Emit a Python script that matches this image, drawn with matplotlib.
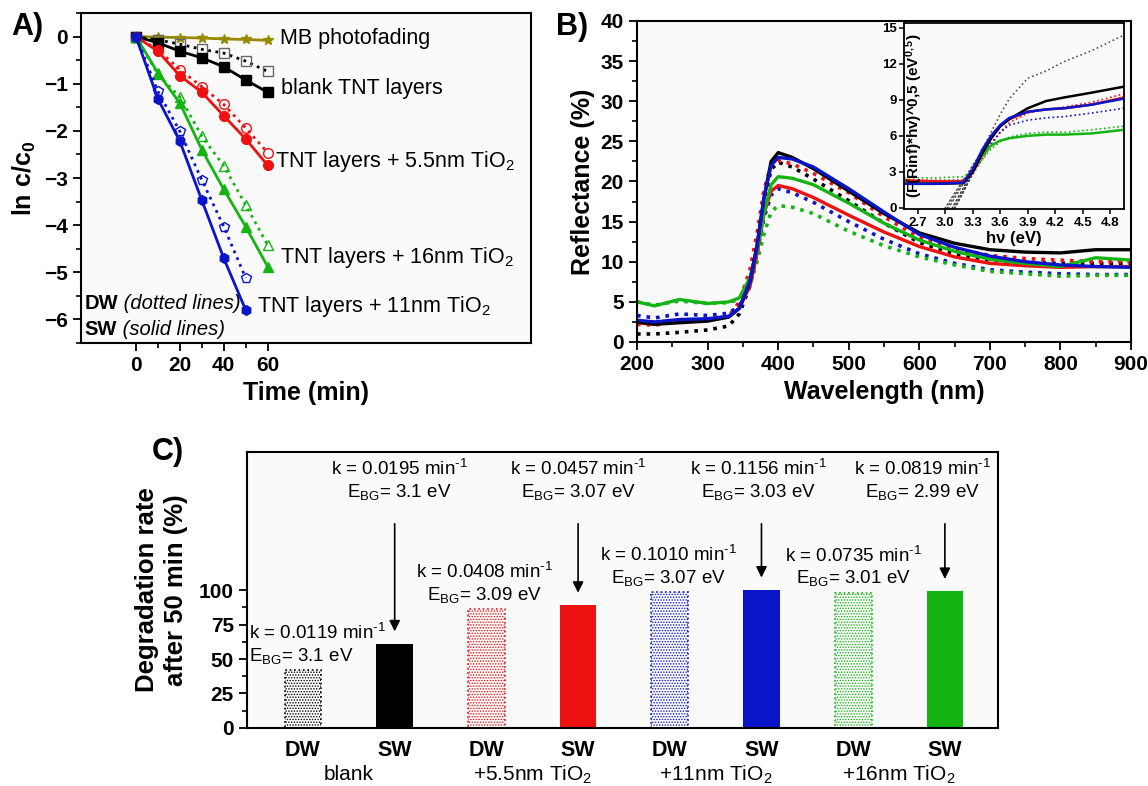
import numpy as np
import matplotlib
matplotlib.use("Agg")
import matplotlib.pyplot as plt
from matplotlib.ticker import MultipleLocator, FixedLocator

plt.rcParams.update({
    "font.family": ["Liberation Sans", "DejaVu Sans"],
    "mathtext.fontset": "custom",
    "mathtext.rm": "Liberation Sans",
    "mathtext.it": "Liberation Sans:italic",
    "mathtext.bf": "Liberation Sans:bold",
    "mathtext.default": "regular",
    "hatch.linewidth": 0.7,
})

# ---- panel A: kinetics ln(c/c0) vs time ----
time = [0, 10, 20, 30, 40, 50, 60]
time_11 = [0, 10, 20, 30, 40, 50]
lnc_mb = [0, -0.01, -0.02, -0.03, -0.05, -0.06, -0.08]
lnc_blank_sw = [0, -0.13, -0.31, -0.45, -0.64, -0.92, -1.18]
lnc_blank_dw = [0, -0.07, -0.16, -0.27, -0.35, -0.52, -0.74]
lnc_55_sw = [0, -0.31, -0.83, -1.18, -1.68, -2.17, -2.73]
lnc_55_dw = [0, -0.28, -0.70, -1.06, -1.44, -1.94, -2.46]
lnc_16_sw = [0, -0.77, -1.41, -2.40, -3.24, -4.03, -4.88]
lnc_16_dw = [0, -0.80, -1.28, -2.11, -2.74, -3.57, -4.42]
lnc_11_sw = [0, -1.32, -2.22, -3.47, -4.70, -5.80]
lnc_11_dw = [0, -1.16, -2.01, -3.04, -4.03, -5.12]

# ---- panel B: diffuse reflectance ----
wl = [200, 225, 260, 300, 330, 345, 360, 370, 380, 390, 400, 420, 450, 500,
      550, 600, 650, 700, 750, 800, 850, 900]
refl_black_sw = [2.5, 2.2, 2.4, 2.6, 3.1, 4.2, 7.5, 12.0, 18.0, 22.5, 23.6, 23.0, 21.6, 18.8,
                 16.0, 13.6, 12.3, 11.5, 11.2, 11.1, 11.5, 11.5]
refl_black_dw = [1.0, 1.0, 1.2, 1.5, 2.0, 3.5, 7.0, 11.5, 17.5, 21.5, 22.4, 21.8, 20.3, 17.6,
                 14.8, 12.4, 11.0, 10.2, 9.9, 9.8, 9.8, 9.8]
refl_red_sw = [2.4, 2.2, 2.7, 2.8, 3.2, 4.2, 7.0, 11.0, 16.0, 18.8, 19.5, 19.1, 18.0, 15.8,
               13.7, 11.9, 10.6, 9.8, 9.5, 9.3, 9.4, 9.4]
refl_red_dw = [2.2, 2.1, 2.6, 2.7, 3.2, 5.0, 9.0, 13.5, 19.0, 22.0, 22.6, 22.2, 21.0, 18.6,
               15.6, 13.0, 11.6, 10.8, 10.4, 10.2, 10.0, 10.0]
refl_blue_sw = [2.7, 2.5, 2.8, 2.9, 3.2, 4.2, 7.5, 12.0, 18.0, 22.0, 23.0, 22.8, 21.8, 19.1,
                16.2, 13.4, 11.8, 10.7, 10.0, 9.6, 9.4, 9.3]
refl_blue_dw = [3.3, 3.0, 3.5, 3.3, 3.6, 4.5, 7.0, 11.0, 15.5, 18.3, 19.1, 18.6, 17.4, 15.0,
                12.8, 11.0, 9.8, 9.0, 8.7, 8.5, 8.4, 8.4]
refl_green_sw = [5.0, 4.5, 5.3, 4.8, 5.0, 5.5, 8.0, 11.5, 16.0, 19.6, 20.6, 20.4, 19.6, 17.3,
                 14.8, 12.7, 11.3, 10.3, 9.8, 9.4, 10.5, 10.2]
refl_green_dw = [5.0, 4.6, 5.1, 4.8, 4.9, 5.3, 7.0, 10.0, 13.5, 16.2, 17.0, 16.8, 16.0, 13.8,
                 12.0, 10.6, 9.6, 8.8, 8.5, 8.2, 8.3, 8.3]

# inset: Kubelka-Munk (F(R)*hv)^0.5
hv = [2.55, 2.9, 3.2, 3.3, 3.4, 3.5, 3.6, 3.7, 3.9, 4.1, 4.3, 4.6, 4.95]
km_black_sw = [2.0, 2.0, 2.05, 3.0, 4.5, 5.8, 6.8, 7.4, 8.3, 8.9, 9.2, 9.6, 10.1]
km_black_dw = [2.2, 2.2, 2.3, 3.2, 4.8, 6.3, 7.8, 9.1, 10.8, 11.4, 12.2, 13.1, 14.4]
km_red_sw = [2.3, 2.2, 2.2, 3.0, 4.5, 5.8, 6.8, 7.4, 8.0, 8.2, 8.3, 8.6, 9.2]
km_red_dw = [2.3, 2.3, 2.3, 2.8, 4.0, 5.2, 6.3, 7.1, 7.9, 8.2, 8.4, 8.8, 9.5]
km_blue_sw = [2.0, 2.0, 2.1, 3.2, 4.8, 6.0, 6.9, 7.5, 8.0, 8.2, 8.3, 8.6, 9.1]
km_blue_dw = [2.1, 2.1, 2.2, 3.0, 4.3, 5.4, 6.3, 6.9, 7.3, 7.5, 7.6, 7.9, 8.3]
km_green_sw = [2.2, 2.2, 2.2, 3.1, 4.3, 5.2, 5.6, 5.8, 6.0, 6.1, 6.1, 6.2, 6.5]
km_green_dw = [2.5, 2.5, 2.6, 3.0, 4.0, 4.9, 5.5, 5.9, 6.2, 6.3, 6.3, 6.5, 6.8]

# ---- panel C: degradation after 50 min ----
bar_labels = ["DW", "SW", "DW", "SW", "DW", "SW", "DW", "SW"]
groups = ["blank", "+5.5nm TiO$_2$", "+11nm TiO$_2$", "+16nm TiO$_2$"]
degradation = [42, 61, 86, 89, 98.5, 100, 98, 99]
k_rate = ["0.0119", "0.0195", "0.0408", "0.0457", "0.1010", "0.1156", "0.0735", "0.0819"]
e_bg = ["3.1", "3.1", "3.09", "3.07", "3.07", "3.03", "3.01", "2.99"]
e_bg_num = [3.1, 3.1, 3.09, 3.07, 3.07, 3.03, 3.01, 2.99]

BLACK, RED, BLUE, GREEN, OLIVE = "#000000", "#ee1111", "#0a14c8", "#14b414", "#968a00"
BG = "#fafafa"


def bold_ticks(ax):
    for t in ax.get_xticklabels() + ax.get_yticklabels():
        t.set_fontweight("bold")


def frame(ax, lw=1.5):
    for s in ax.spines.values():
        s.set_linewidth(lw)


fig = plt.figure(figsize=(11.48, 7.86), dpi=100)
fig.patch.set_facecolor("white")

# ================= A =================
axA = fig.add_axes([0.0706, 0.5636, 0.392, 0.4198], facecolor=BG)
ms = 7
axA.plot(time, lnc_mb, color=OLIVE, lw=2, marker="*", ms=7)
axA.plot(time, lnc_blank_dw, color=BLACK, lw=2, ls=":", marker="s", ms=ms,
         mfc="none", mec="#666666")
axA.plot(time, lnc_blank_sw, color=BLACK, lw=2, marker="s", ms=ms)
axA.plot(time, lnc_55_dw, color=RED, lw=2, ls=":", marker="o", ms=ms, mfc="none")
axA.plot(time, lnc_55_sw, color=RED, lw=2, marker="o", ms=ms)
axA.plot(time, lnc_16_dw, color=GREEN, lw=2, ls=":", marker="^", ms=ms, mfc="none")
axA.plot(time, lnc_16_sw, color=GREEN, lw=2, marker="^", ms=ms)
axA.plot(time_11, lnc_11_dw, color=BLUE, lw=2, ls=":", marker="p", ms=ms, mfc="none")
axA.plot(time_11, lnc_11_sw, color=BLUE, lw=2, marker="h", ms=ms)

axA.set_xlim(-25, 180)
axA.set_ylim(-6.5, 0.5)
axA.xaxis.set_major_locator(FixedLocator([0, 20, 40, 60]))
axA.xaxis.set_minor_locator(FixedLocator([10, 30, 50]))
axA.yaxis.set_major_locator(MultipleLocator(1))
axA.yaxis.set_minor_locator(MultipleLocator(0.5))
axA.tick_params(which="major", length=6, width=1.3, labelsize=15)
axA.tick_params(which="minor", length=3.5, width=1.2)
bold_ticks(axA)
frame(axA)
axA.set_xlabel("Time (min)", fontsize=18, fontweight="bold", labelpad=4)
axA.set_ylabel("ln c/c$_0$", fontsize=18, fontweight="bold", labelpad=4)

fsA = 15.5
axA.text(65.5, -0.03, "MB photofading", fontsize=fsA, va="center")
axA.text(66, -1.11, "blank TNT layers", fontsize=fsA, va="center")
axA.text(63.5, -2.65, "TNT layers + 5.5nm TiO$_2$", fontsize=fsA, va="center")
axA.text(65.5, -4.69, "TNT layers + 16nm TiO$_2$", fontsize=fsA, va="center")
axA.text(55, -5.72, "TNT layers + 11nm TiO$_2$", fontsize=fsA, va="center")
for yy, head, tail in [(-5.67, "DW", " (dotted lines)"), (-6.22, "SW", " (solid lines)")]:
    t = axA.text(-23.5, yy, head, fontsize=14.5, fontweight="bold", va="center")
    axA.annotate(tail, xy=(1, 0.5), xycoords=t, va="center", ha="left",
                 fontsize=14.5, fontstyle="italic")
fig.text(0.0235, 0.966, "A)", fontsize=22, fontweight="bold", ha="center", va="center")

# ================= B =================
axB = fig.add_axes([0.5549, 0.5649, 0.4303, 0.4084], facecolor=BG)
for vals, col in [(refl_black_dw, BLACK), (refl_red_dw, RED), (refl_blue_dw, BLUE),
                  (refl_green_dw, GREEN)]:
    axB.plot(wl, vals, color=col, lw=2.6, ls=":")
for vals, col in [(refl_red_sw, RED), (refl_green_sw, GREEN), (refl_black_sw, BLACK),
                  (refl_blue_sw, BLUE)]:
    axB.plot(wl, vals, color=col, lw=2.4)
axB.set_xlim(200, 900)
axB.set_ylim(0, 40)
axB.xaxis.set_major_locator(MultipleLocator(100))
axB.xaxis.set_minor_locator(MultipleLocator(50))
axB.yaxis.set_major_locator(MultipleLocator(5))
axB.yaxis.set_minor_locator(MultipleLocator(2.5))
axB.tick_params(which="major", length=6, width=1.3, labelsize=15)
axB.tick_params(which="minor", length=3.5, width=1.2)
bold_ticks(axB)
frame(axB)
axB.set_xlabel("Wavelength (nm)", fontsize=18, fontweight="bold", labelpad=4)
axB.set_ylabel("Reflectance (%)", fontsize=18, fontweight="bold", labelpad=4)
fig.text(0.498, 0.966, "B)", fontsize=22, fontweight="bold", ha="center", va="center")

# inset
axI = fig.add_axes([0.7875, 0.7341, 0.1916, 0.2366], facecolor=BG)
for eg in e_bg_num[::-1]:
    axI.plot([eg, 3.55], [-0.1, 6.5], color="#444444", lw=0.9, ls=(0, (2, 1.5)))
for vals, col in [(km_black_dw, "#555555"), (km_red_dw, RED), (km_blue_dw, BLUE),
                  (km_green_dw, GREEN)]:
    axI.plot(hv, vals, color=col, lw=1.2, ls=":")
for vals, col in [(km_green_sw, GREEN), (km_red_sw, RED), (km_black_sw, BLACK),
                  (km_blue_sw, BLUE)]:
    axI.plot(hv, vals, color=col, lw=1.8)
axI.set_xlim(2.55, 4.95)
axI.set_ylim(-0.1, 15.4)
axI.xaxis.set_major_locator(FixedLocator([2.7, 3.0, 3.3, 3.6, 3.9, 4.2, 4.5, 4.8]))
axI.yaxis.set_major_locator(FixedLocator([0, 3, 6, 9, 12, 15]))
axI.tick_params(which="major", length=3.5, width=1.1, labelsize=9.5, pad=2)
bold_ticks(axI)
frame(axI, 1.3)
axI.set_xlabel("h\u03bd (eV)", fontsize=12, fontweight="bold", labelpad=2)
axI.text(0.045, 0.5, "(F(Rinf)*hv)^0,5 (eV$^{0,5}$)", transform=axI.transAxes,
         rotation=90, fontsize=11, fontweight="bold", ha="center", va="center")

# ================= C =================
axC = fig.add_axes([0.2152, 0.0738, 0.6542, 0.3511], facecolor=BG)
pos = np.arange(len(degradation))
colors = [BLACK, BLACK, RED, RED, BLUE, BLUE, GREEN, GREEN]
for i, (p, v, c) in enumerate(zip(pos, degradation, colors)):
    if i % 2 == 0:
        axC.bar(p, v, width=0.4, facecolor="white", edgecolor=c, hatch="......",
                linewidth=1.2, linestyle=":")
    else:
        axC.bar(p, v, width=0.4, color=c)
axC.set_xlim(-0.61, 7.58)
axC.set_ylim(0, 200)
axC.set_xticks(pos)
axC.set_xticklabels(bar_labels)
axC.yaxis.set_major_locator(FixedLocator([0, 25, 50, 75, 100]))
axC.yaxis.set_minor_locator(FixedLocator([12.5, 37.5, 62.5, 87.5]))
axC.tick_params(axis="x", length=0, labelsize=15.5, pad=9)
axC.tick_params(axis="y", which="major", length=6, width=1.3, labelsize=15)
axC.tick_params(axis="y", which="minor", length=3.5, width=1.2)
bold_ticks(axC)
frame(axC)
axC.set_ylabel("Degradation rate\nafter 50 min (%)", fontsize=18.5, fontweight="bold",
               linespacing=1.25, labelpad=8)
for g, name in enumerate(groups):
    axC.text(2 * g + 0.5, -0.17, name, transform=axC.get_xaxis_transform(),
             ha="center", va="center", fontsize=15)

fsC = 13.5
# dotted-wall labels (sit just above the bar)
dw_x = [-0.59, 1.98, 3.99, 6.0]
for j, x in enumerate(dw_x):
    i = 2 * j
    ha = "left" if j == 0 else "center"
    base = degradation[i] + 10.5
    axC.text(x, base + 16.5, "k = " + k_rate[i] + " min$^{\u2010 1}$", ha=ha, va="center",
             fontsize=fsC)
    axC.text(x, base, "E$_{BG}$= " + e_bg[i] + " eV", ha=ha, va="center", fontsize=fsC)
# single-wall labels with arrows
sw_x = [1.05, 3.0, 4.97, 6.75]
for j, x in enumerate(sw_x):
    i = 2 * j + 1
    axC.text(x, 188, "k = " + k_rate[i] + " min$^{\u2010 1}$", ha="center", va="center",
             fontsize=fsC)
    axC.text(x, 171, "E$_{BG}$= " + e_bg[i] + " eV", ha="center", va="center", fontsize=fsC)
    axC.annotate("", xy=(pos[i], degradation[i] + 7), xytext=(pos[i], 150),
                 arrowprops=dict(arrowstyle="-|>", color="black", lw=1.2,
                                 mutation_scale=16))
fig.text(0.146, 0.425, "C)", fontsize=22, fontweight="bold", ha="center", va="center")

fig.savefig("out.png", dpi=100)
